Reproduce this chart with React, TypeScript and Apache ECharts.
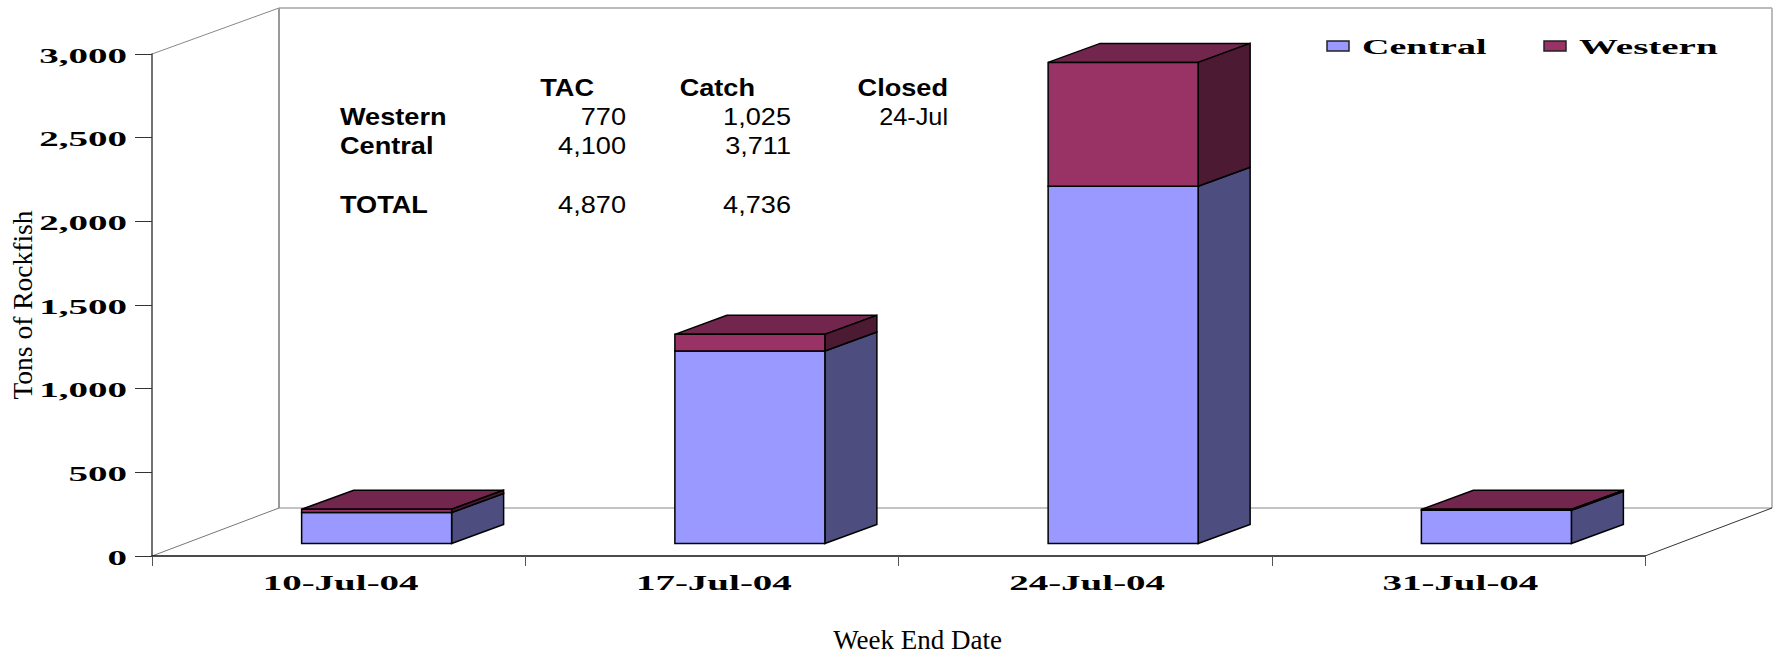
import React, { useEffect, useRef } from "react";
import * as echarts from "echarts";

const weeks = ["10-Jul-04", "17-Jul-04", "24-Jul-04", "31-Jul-04"];
const central = [185, 1150, 2135, 198];
const western = [20, 100, 740, 6];
const yTicks = [0, 500, 1000, 1500, 2000, 2500, 3000];
const yTickLabels = ["0", "500", "1,000", "1,500", "2,000", "2,500", "3,000"];
const tableHeaders = ["TAC", "Catch", "Closed"];
const tableRows = ["Western", "Central", "TOTAL"];
const tacValues = ["770", "4,100", "4,870"];
const catchValues = ["1,025", "3,711", "4,736"];
const closedValues = ["24-Jul", "", ""];

const W = 1775;
const H = 654;
const G = { left: 152, right: 1645, top: 54, bottom: 556 };
const WALL = { dx: 127, dy: 48, top: 8 };
const BAR = { lift: 12.5, offset: 37, width: 150, dx: 52, dy: 19 };
const STRETCH = 1.95;
const LABEL_FONT = 'bold 20px "Liberation Serif"';

const COLORS = {
  central: { front: "#9999FF", side: "#4D4D80", top: "#73738F" },
  western: { front: "#993366", side: "#4D1A33", top: "#73264D" },
};

function bars(palette: typeof COLORS.central) {
  return (_p: any, api: any) => {
    const cat = api.value(0);
    const base = api.value(1);
    const top = api.value(2);
    const [cx, y0] = api.coord([cat, base]);
    const [, y1] = api.coord([cat, top]);
    const left = cx - BAR.offset;
    const right = left + BAR.width;
    const yb = y0 - BAR.lift;
    const yt = y1 - BAR.lift;
    const line = { stroke: "#000", lineWidth: 1.5 };
    return {
      type: "group",
      children: [
        {
          type: "polygon",
          shape: { points: [[left, yt], [left + BAR.dx, yt - BAR.dy], [right + BAR.dx, yt - BAR.dy], [right, yt]] },
          style: { fill: palette.top, ...line },
        },
        {
          type: "polygon",
          shape: { points: [[right, yb], [right + BAR.dx, yb - BAR.dy], [right + BAR.dx, yt - BAR.dy], [right, yt]] },
          style: { fill: palette.side, ...line },
        },
        {
          type: "rect",
          shape: { x: left, y: yt, width: BAR.width, height: yb - yt },
          style: { fill: palette.front, ...line },
        },
      ],
    };
  };
}

function stretched(text: string, x: number, y: number, align: string, font: string, scaleX: number) {
  return {
    type: "text",
    x,
    y,
    scaleX,
    z: 5,
    style: { text, font, fill: "#000", textAlign: align, textVerticalAlign: "middle" },
  };
}

function line(x1: number, y1: number, x2: number, y2: number, stroke: string, lineWidth: number) {
  return { type: "line", z: 0, shape: { x1, y1, x2, y2 }, style: { stroke, lineWidth } };
}

function buildGraphic() {
  const bx = G.left + WALL.dx;
  const fy = G.bottom - WALL.dy;
  const rx = G.right + WALL.dx;
  const els: any[] = [
    line(G.left, G.top, bx, WALL.top, "#888888", 1),
    line(bx, WALL.top, rx, WALL.top, "#BBBBBB", 2),
    line(bx, WALL.top, bx, fy, "#999999", 2),
    line(rx, WALL.top, rx, fy, "#BBBBBB", 2),
    line(G.left, G.bottom, bx, fy, "#777777", 1),
    line(bx, fy, rx, fy, "#888888", 1),
    line(G.right, G.bottom, rx, fy, "#333333", 1),
  ];
  const tableFont = 'bold 23px "Liberation Sans"';
  const valueFont = '23px "Liberation Sans"';
  const rowY = [117, 146, 205];
  const sx = 1.18;
  const headX = [594, 755, 948];
  tableHeaders.forEach((h, i) => els.push(stretched(h, headX[i], 88, "right", tableFont, sx)));
  tableRows.forEach((r, i) => {
    els.push(stretched(r, 340, rowY[i], "left", tableFont, sx));
    els.push(stretched(tacValues[i], 626, rowY[i], "right", valueFont, sx));
    els.push(stretched(catchValues[i], 791, rowY[i], "right", valueFont, sx));
    if (closedValues[i]) els.push(stretched(closedValues[i], 948, rowY[i], "right", valueFont, 1.1));
  });
  els.push(
    { type: "rect", z: 5, shape: { x: 1327, y: 41, width: 22, height: 10 }, style: { fill: COLORS.central.front, stroke: "#222", lineWidth: 1.5 } },
    { type: "rect", z: 5, shape: { x: 1544, y: 41, width: 22, height: 10 }, style: { fill: COLORS.western.front, stroke: "#222", lineWidth: 1.5 } },
    stretched("Central", 1362, 47, "left", LABEL_FONT, 1.9),
    stretched("Western", 1579, 47, "left", LABEL_FONT, STRETCH)
  );
  return els;
}

const stackedBase = western.map((_, i) => central[i]);

export default function App() {
  const ref = useRef<HTMLDivElement>(null);
  useEffect(() => {
    const chart = echarts.init(ref.current!, null, { renderer: "svg" });
    chart.setOption({
      animation: false,
      backgroundColor: "#fff",
      grid: {
        left: G.left,
        top: G.top,
        width: G.right - G.left,
        height: G.bottom - G.top,
        outerBoundsMode: "none",
        containLabel: false,
      },
      graphic: buildGraphic(),
      xAxis: {
        type: "category",
        data: weeks,
        boundaryGap: true,
        name: "Week End Date",
        nameLocation: "middle",
        nameGap: 70,
        nameTextStyle: { fontFamily: "Liberation Serif", fontSize: 27, color: "#000", padding: [0, 0, 0, 38] },
        axisLine: { lineStyle: { color: "#111", width: 1.5 } },
        axisTick: { show: true, interval: 0, length: 10, lineStyle: { color: "#555", width: 1 }, alignWithLabel: false },
        axisLabel: { show: false },
      },
      yAxis: {
        type: "value",
        min: 0,
        max: 3000,
        interval: 500,
        name: "Tons of Rockfish",
        nameLocation: "middle",
        nameGap: 116,
        nameRotate: 90,
        nameTextStyle: { fontFamily: "Liberation Serif", fontSize: 27.5, color: "#000" },
        splitLine: { show: false },
        axisLine: { show: true, lineStyle: { color: "#444", width: 1.5 } },
        axisTick: { show: true, length: 17, lineStyle: { color: "#333", width: 1 } },
        axisLabel: { show: false },
      },
      series: [
        {
          type: "custom",
          name: "Central",
          renderItem: bars(COLORS.central),
          data: central.map((v, i) => [i, 0, v]),
          z: 3,
        },
        {
          type: "custom",
          name: "Western",
          renderItem: bars(COLORS.western),
          data: western.map((v, i) => [i, stackedBase[i], stackedBase[i] + v]),
          z: 4,
        },
        {
          type: "custom",
          name: "yLabels",
          silent: true,
          renderItem: (_p: any, api: any) => {
            const [, y] = api.coord([0, api.value(0)]);
            return stretched(yTickLabels[_p.dataIndex], 127, y + 2, "right", LABEL_FONT, STRETCH);
          },
          data: yTicks.map((v) => [v]),
          encode: { y: 0 },
          z: 5,
        },
        {
          type: "custom",
          name: "xLabels",
          silent: true,
          renderItem: (_p: any, api: any) => {
            const [x, y] = api.coord([api.value(0), 0]);
            return stretched(weeks[_p.dataIndex], x + 2, y + 27, "center", LABEL_FONT, STRETCH);
          },
          data: weeks.map((_, i) => [i]),
          encode: { x: 0 },
          z: 5,
        },
      ],
    });
    return () => chart.dispose();
  }, []);
  return <div ref={ref} style={{ position: "absolute", left: 0, top: 0, width: W, height: H }} />;
}
